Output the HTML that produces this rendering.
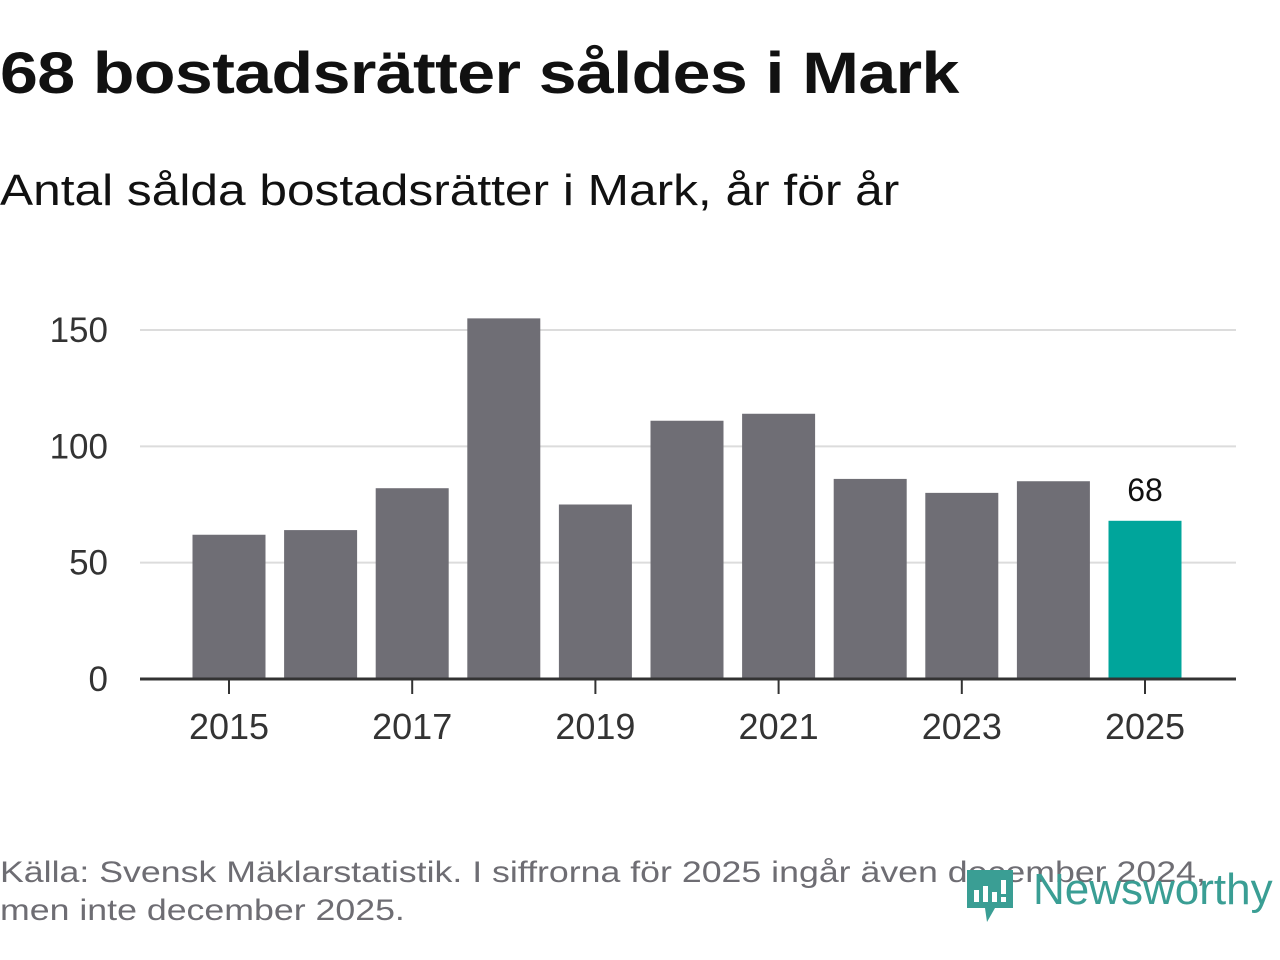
<!DOCTYPE html>
<html><head><meta charset="utf-8"><style>
body{margin:0;width:1280px;height:960px;background:#fff;font-family:"Liberation Sans","DejaVu Sans",sans-serif;overflow:hidden;position:relative}
#title{position:absolute;left:0;top:40px;font-size:58px;font-weight:bold;color:#111;margin:0;letter-spacing:-0.5px;transform:scaleX(1.174);transform-origin:0 0;white-space:nowrap}
#sub{position:absolute;left:0;top:166px;font-size:44px;color:#111;transform:scaleX(1.128);transform-origin:0 0;white-space:nowrap}
#src{position:absolute;left:0;top:854px;font-size:30px;color:#6e6d73;line-height:38px;transform:scaleX(1.19);transform-origin:0 0;white-space:nowrap}
</style></head><body>
<h1 id="title">68 bostadsrätter såldes i Mark</h1>
<div id="sub">Antal sålda bostadsrätter i Mark, år för år</div>
<svg id="chart" width="1280" height="960" style="position:absolute;left:0;top:0"></svg>
<div id="src">Källa: Svensk Mäklarstatistik. I siffrorna för 2025 ingår även december 2024,<br>men inte december 2025.</div>
<div style="position:absolute;left:965px;top:866px;width:310px;height:60px">
<svg width="310" height="60"><path d="M2 4h46v38h-18l-8 14-2-14H2z" fill="#3a9e94"/>
<rect x="9" y="24" width="5" height="12" fill="#fff"/><rect x="18" y="20" width="5" height="16" fill="#fff"/><rect x="27" y="26" width="5" height="10" fill="#fff"/><rect x="36" y="14" width="5" height="14" fill="#fff"/><rect x="36" y="31" width="5" height="5" fill="#fff"/>
<text x="68" y="38" font-size="44" fill="#3a9e94" font-family="Liberation Sans, sans-serif">Newsworthy</text></svg></div>
<script>
const years=[2015,2016,2017,2018,2019,2020,2021,2022,2023,2024,2025];
const values=[62,64,82,155,75,111,114,86,80,85,68];
const yTicks=[0,50,100,150];
const xTickLabels=[2015,2017,2019,2021,2023,2025];
const NS="http://www.w3.org/2000/svg";
const svg=document.getElementById('chart');
const y0=679,k=(679-330)/150;
const y=v=>y0-v*k;
const x=yr=>229+(yr-2015)*91.6;
function el(t,a){const e=document.createElementNS(NS,t);for(const n in a)e.setAttribute(n,a[n]);svg.appendChild(e);return e;}
yTicks.forEach(t=>{
 if(t>0){const l=el('line',{x1:140,x2:1236,y1:y(t),y2:y(t),stroke:'#dcdcdc','stroke-width':2});
 
 }
 const tx=el('text',{x:108,y:y(t)+12,'font-size':35,'text-anchor':'end',fill:'#333'});tx.textContent=t;
 
 
});
years.forEach((yr,i)=>{
 const r=el('rect',{x:x(yr)-36.5,y:y(values[i]),width:73,height:values[i]*k,fill:yr===2025?'#00a59b':'#6f6e75'});
 
 
});
const lab=el('text',{x:x(2025),y:y(68)-20,'font-size':32,'text-anchor':'middle',fill:'#111'});lab.textContent=values[10];


const ax=el('line',{x1:140,x2:1236,y1:y0,y2:y0,stroke:'#333','stroke-width':3});


xTickLabels.forEach(yr=>{
 el('line',{x1:x(yr),x2:x(yr),y1:y0,y2:y0+15,stroke:'#333','stroke-width':2});
 const t=el('text',{x:x(yr),y:739,'font-size':36,'text-anchor':'middle',fill:'#333'});t.textContent=yr;
 
 
});
</script>
</body></html>
